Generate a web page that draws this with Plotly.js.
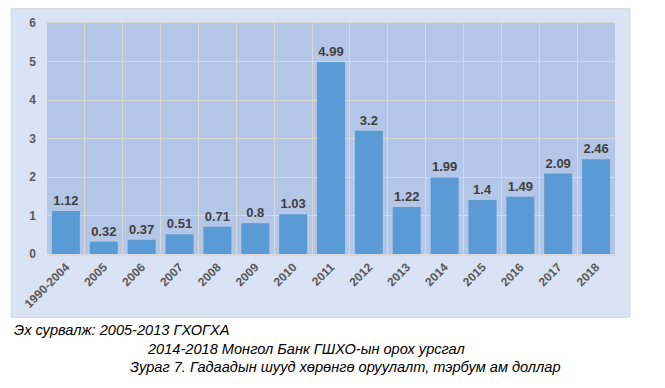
<!DOCTYPE html>
<html><head><meta charset="utf-8">
<script src="https://cdn.plot.ly/plotly-3.0.1.min.js"></script>
<style>html,body{margin:0;padding:0;background:#fff}#c{width:665px;height:388px}</style>
</head><body><div id="c"></div>
<script>
const categories = ["1990-2004","2005","2006","2007","2008","2009","2010","2011","2012","2013","2014","2015","2016","2017","2018"];
const values = [1.12,0.32,0.37,0.51,0.71,0.8,1.03,4.99,3.2,1.22,1.99,1.4,1.49,2.09,2.46];
const labels = ["1.12","0.32","0.37","0.51","0.71","0.8","1.03","4.99","3.2","1.22","1.99","1.4","1.49","2.09","2.46"];
const notes = ["Эх сурвалж: 2005-2013 ГХОГХА","2014-2018 Монгол Банк ГШХО-ын орох урсгал","Зураг 7. Гадаадын шууд хөрөнгө оруулалт, тэрбум ам доллар"];

const L=47, R=615.5, T=22.7, B=254.3;
const W=R-L, H=B-T;
const px = x => (x-L)/W;
const py = y => (B-y)/H;
const noteFont = {family:"'Liberation Sans',Arial,sans-serif", size:14.6, color:'#000', style:'italic'};

const trace = {
  type:'bar', x:categories, y:values, text:labels.map(s=>'<b>'+s+'</b>'),
  textposition:'outside', cliponaxis:false,
  textfont:{family:"'Liberation Sans',Arial,sans-serif", size:13, color:'#404040'},
  marker:{color:'#5B9BD5'}, hoverinfo:'none'
};
const layout = {
  width:665, height:388,
  margin:{l:L, r:665-R, t:T, b:388-B, pad:0},
  paper_bgcolor:'#ffffff', plot_bgcolor:'#B4C7E7',
  bargap:0.26, showlegend:false,
  font:{family:"'Liberation Sans',Arial,sans-serif"},
  xaxis:{type:'category', tickson:'boundaries', showgrid:true, gridcolor:'#D9D9D9', gridwidth:1,
    ticks:'', tickangle:-45, showline:true, linecolor:'#D9D9D9', linewidth:1.5, mirror:true,
    tickfont:{size:12, color:'#595959', weight:'bold'}, automargin:false},
  yaxis:{range:[0,6], dtick:1, showgrid:true, gridcolor:'#D9D9D9', gridwidth:1, zeroline:false,
    ticks:'', showline:false, ticklabelstandoff:10,
    tickfont:{size:12, color:'#595959', weight:'bold'}, automargin:false},
  shapes:[
    {type:'rect', xref:'paper', yref:'paper', layer:'below',
      x0:px(11), x1:px(630.5), y0:py(318), y1:py(8.3),
      fillcolor:'#DAE3F3', line:{color:'#D9D9D9', width:1}},
    {type:'rect', xref:'paper', yref:'paper', layer:'below',
      x0:0, x1:1, y0:0, y1:1, fillcolor:'#B4C7E7', line:{width:0}}
  ],
  annotations:[
    {text:notes[0], xref:'paper', yref:'paper', x:px(12), y:py(330), xanchor:'left', yanchor:'middle', showarrow:false, font:noteFont},
    {text:notes[1], xref:'paper', yref:'paper', x:px(145), y:py(350), xanchor:'left', yanchor:'middle', showarrow:false, font:noteFont},
    {text:notes[2], xref:'paper', yref:'paper', x:px(128), y:py(368), xanchor:'left', yanchor:'middle', showarrow:false, font:noteFont}
  ]
};
Plotly.newPlot('c',[trace],layout,{displayModeBar:false, staticPlot:true});
</script></body></html>
